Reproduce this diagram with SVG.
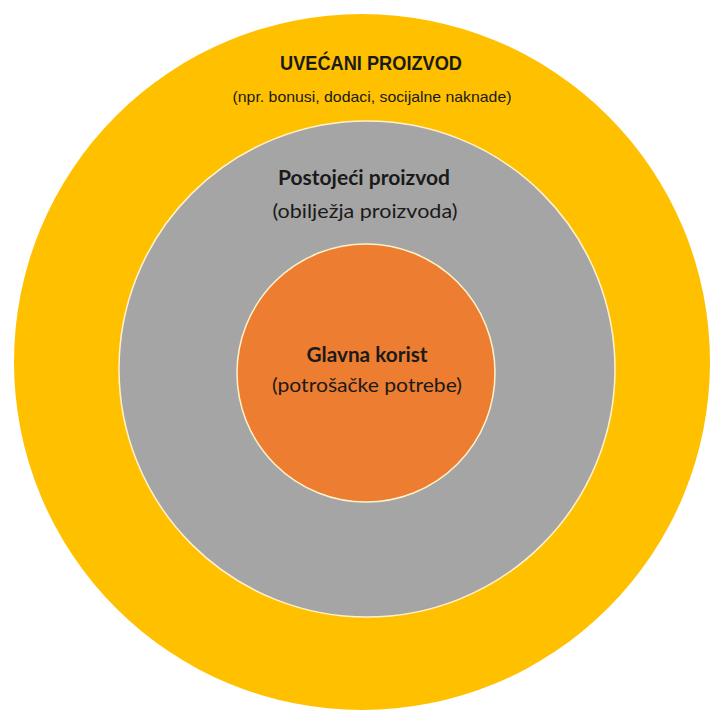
<svg xmlns="http://www.w3.org/2000/svg" width="713" height="718" viewBox="0 0 713 718">
<style>
.ring{stroke:#FFF2CC;stroke-width:1.5}
.h{font-family:"Liberation Sans",Arial,sans-serif;font-weight:bold;fill:#1a1a1a;text-anchor:middle}
.s{font-family:"Liberation Sans",Arial,sans-serif;fill:#1a1a1a;text-anchor:middle}
.c{font-family:Lato,"Open Sans",sans-serif;fill:#1a1a1a;text-anchor:middle}
.cb{font-family:Lato,"Open Sans",sans-serif;font-weight:bold;fill:#1a1a1a;text-anchor:middle}
</style>
<rect width="713" height="718" fill="#ffffff"/>
<g id="uvecani">
<circle cx="362" cy="362" r="348" fill="#FFC000"/>
<text class="h" x="371" y="70" font-size="21" textLength="182" lengthAdjust="spacingAndGlyphs">UVEĆANI PROIZVOD</text>
<text class="s" x="372" y="102" font-size="15" textLength="279" lengthAdjust="spacingAndGlyphs">(npr. bonusi, dodaci, socijalne naknade)</text>
</g>
<g id="postojeci">
<circle class="ring" cx="367" cy="369" r="248" fill="#A5A5A5"/>
<text class="cb" x="364" y="185" font-size="20" textLength="172" lengthAdjust="spacingAndGlyphs">Postojeći proizvod</text>
<text class="c" x="365" y="218" font-size="20" textLength="185" lengthAdjust="spacingAndGlyphs">(obilježja proizvoda)</text>
</g>
<g id="glavna">
<circle class="ring" cx="366" cy="373" r="129" fill="#ED7D31"/>
<text class="cb" x="367" y="362" font-size="20" textLength="121" lengthAdjust="spacingAndGlyphs">Glavna korist</text>
<text class="c" x="367" y="392" font-size="20" textLength="190" lengthAdjust="spacingAndGlyphs">(potrošačke potrebe)</text>
</g>
<g id="connectors"></g>
</svg>
